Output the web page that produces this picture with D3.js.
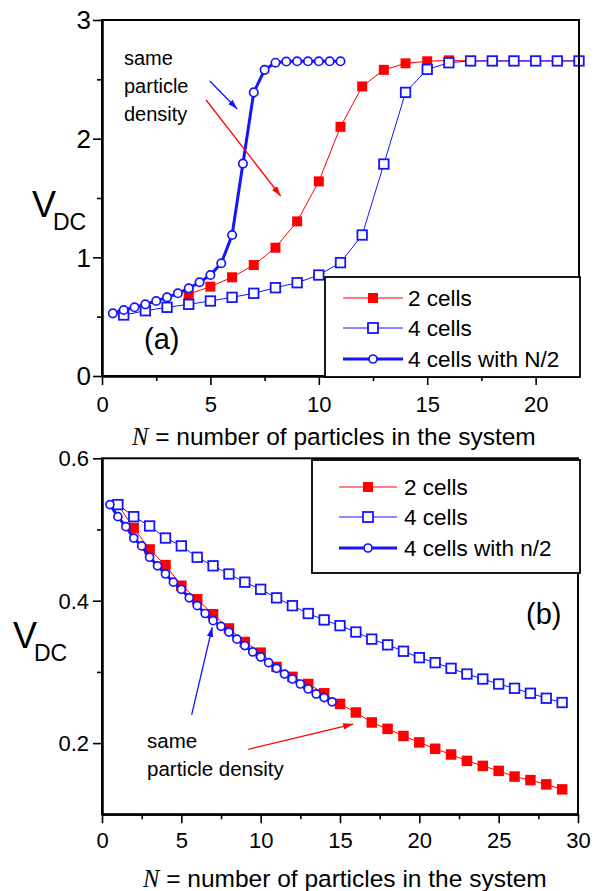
<!DOCTYPE html>
<html>
<head>
<meta charset="utf-8">
<script src="https://cdn.jsdelivr.net/npm/d3@7"></script>
<style>
  body { margin: 0; background: #fff; }
  svg { display: block; }
</style>
</head>
<body>
<svg id="fig" width="599" height="891"></svg>
<script>
// ---------- Panel (a): V_DC against the number of particles N ----------
const aTwoCellsN = [4, 5, 6, 7, 8, 9, 10, 11, 12, 13, 14, 15, 16, 17, 18, 19, 20, 21, 22];
const aTwoCellsV = [0.69, 0.753, 0.832, 0.935, 1.081, 1.303, 1.64, 2.10, 2.44, 2.58, 2.635, 2.652, 2.66,
                    2.655, 2.655, 2.655, 2.655, 2.655, 2.655];

const aFourCellsN = [1, 2, 3, 4, 5, 6, 7, 8, 9, 10, 11, 12, 13, 14, 15, 16, 17, 18, 19, 20, 21, 22];
const aFourCellsV = [0.514, 0.55, 0.579, 0.604, 0.632, 0.663, 0.697, 0.744, 0.786, 0.851, 0.955, 1.188,
                     1.786, 2.39, 2.584, 2.64, 2.655, 2.655, 2.655, 2.655, 2.655, 2.655];

const aHalfN = [0.5, 1, 1.5, 2, 2.5, 3, 3.5, 4, 4.5, 5, 5.5, 6, 6.5, 7, 7.5, 8, 8.5, 9, 9.5, 10, 10.5, 11];
const aHalfV = [0.528, 0.556, 0.579, 0.604, 0.632, 0.663, 0.697, 0.739, 0.79, 0.851, 0.95, 1.188,
                1.79, 2.39, 2.58, 2.64, 2.65, 2.652, 2.652, 2.652, 2.652, 2.652];

const aXTicks = [0, 5, 10, 15, 20];
const aXMinor = [2.5, 7.5, 12.5, 17.5];
const aYTicks = [0, 1, 2, 3];
const aYMinor = [0.5, 1.5, 2.5];
const aLegend = ["2 cells", "4 cells", "4 cells with N/2"];

// ---------- Panel (b) ----------
const bTwoCellsN = [1, 2, 3, 4, 5, 6, 7, 8, 9, 10, 11, 12, 13, 14, 15, 16, 17, 18, 19, 20, 21, 22, 23, 24, 25, 26, 27, 28, 29];
const bTwoCellsV = [0.535, 0.502, 0.472, 0.45, 0.421, 0.402, 0.381, 0.361, 0.342, 0.327, 0.307, 0.293, 0.283,
                    0.27, 0.255, 0.243, 0.229, 0.22, 0.21, 0.201, 0.192, 0.184, 0.175, 0.168, 0.161, 0.153,
                    0.148, 0.142, 0.135];

const bFourCellsN = [1, 2, 3, 4, 5, 6, 7, 8, 9, 10, 11, 12, 13, 14, 15, 16, 17, 18, 19, 20, 21, 22, 23, 24, 25, 26, 27, 28, 29];
const bFourCellsV = [0.535, 0.518, 0.505, 0.488, 0.477, 0.461, 0.449, 0.4375, 0.426, 0.416, 0.404, 0.393,
                     0.382, 0.373, 0.365, 0.356, 0.346, 0.338, 0.329, 0.32, 0.313, 0.305, 0.297, 0.29,
                     0.283, 0.277, 0.27, 0.263, 0.257];

const bHalfN = [0.5, 1, 1.5, 2, 2.5, 3, 3.5, 4, 4.5, 5, 5.5, 6, 6.5, 7, 7.5, 8, 8.5, 9, 9.5, 10, 10.5,
                11, 11.5, 12, 12.5, 13, 13.5, 14, 14.5];
const bHalfV = [0.535, 0.518, 0.504, 0.488, 0.477, 0.461, 0.449, 0.4375, 0.426, 0.416, 0.404, 0.393,
                0.382, 0.372, 0.364, 0.356, 0.346, 0.337, 0.328, 0.321, 0.313, 0.305, 0.297, 0.29,
                0.283, 0.276, 0.269, 0.264, 0.258];

const bXTicks = [0, 5, 10, 15, 20, 25, 30];
const bXMinor = [2.5, 7.5, 12.5, 17.5, 22.5, 27.5];
const bYTicks = [0.2, 0.4, 0.6];
const bYMinor = [0.3, 0.5];
const bLegend = ["2 cells", "4 cells", "4 cells with n/2"];

// ---------- styling ----------
const SANS = '"Liberation Sans", Arial, Helvetica, sans-serif';
const SERIF = '"Liberation Serif", "Times New Roman", serif';
const RED = "#ff0000";
const BLUE = "#1414ff";

const svg = d3.select("#fig");

// arrowheads for the annotation arrows
const defs = svg.append("defs");
[["arrRed", RED], ["arrBlue", BLUE]].forEach(([id, c]) => {
  defs.append("marker").attr("id", id)
    .attr("viewBox", "0 -4 10 8").attr("refX", 10).attr("refY", 0)
    .attr("markerUnits", "userSpaceOnUse")
    .attr("markerWidth", 10).attr("markerHeight", 8).attr("orient", "auto")
    .append("path").attr("d", "M0,-3.2L10,0L0,3.2Z").attr("fill", c);
});

function drawSeries(g, x, y, xs, ys, s) {
  const pts = xs.map((v, i) => [v, ys[i]]);
  g.append("path").datum(pts)
    .attr("d", d3.line().x(d => x(d[0])).y(d => y(d[1])))
    .attr("fill", "none").attr("stroke", s.color).attr("stroke-width", s.lw);
  drawMarkers(g, pts.map(d => [x(d[0]), y(d[1])]), s);
}

function drawMarkers(g, pix, s) {
  if (s.shape === "filledSquare") {
    g.selectAll(null).data(pix).join("rect")
      .attr("x", d => d[0] - s.size / 2).attr("y", d => d[1] - s.size / 2)
      .attr("width", s.size).attr("height", s.size).attr("fill", s.color);
  } else if (s.shape === "openSquare") {
    g.selectAll(null).data(pix).join("rect")
      .attr("x", d => d[0] - s.size / 2).attr("y", d => d[1] - s.size / 2)
      .attr("width", s.size).attr("height", s.size)
      .attr("fill", "#fff").attr("stroke", s.color).attr("stroke-width", 1.8);
  } else {
    g.selectAll(null).data(pix).join("circle")
      .attr("cx", d => d[0]).attr("cy", d => d[1]).attr("r", s.size / 2)
      .attr("fill", "#fff").attr("stroke", s.color).attr("stroke-width", 1.7);
  }
}

function drawPanel(p) {
  const g = svg.append("g");
  const x = d3.scaleLinear().domain(p.xDomain).range([p.left, p.right]);
  const y = d3.scaleLinear().domain(p.yDomain).range([p.bottom, p.top]);

  // data
  p.series.forEach(s => drawSeries(g, x, y, s.xs, s.ys, s));

  // frame
  g.append("rect").attr("x", p.left).attr("y", p.top)
    .attr("width", p.right - p.left).attr("height", p.bottom - p.top)
    .attr("fill", "none").attr("stroke", "#000").attr("stroke-width", 2);

  // axes: major ticks with labels, minor ticks without
  const gx = g.append("g").attr("transform", `translate(0,${p.bottom})`)
    .call(d3.axisBottom(x).tickValues(p.xTicks).tickSize(9).tickSizeOuter(0));
  gx.selectAll("text").attr("y", p.xLabelOffset).attr("dy", "0.71em")
    .attr("font-family", SANS).attr("font-size", p.xTickFont).attr("fill", "#000");
  g.append("g").attr("transform", `translate(0,${p.bottom})`)
    .call(d3.axisBottom(x).tickValues(p.xMinor).tickSize(5).tickSizeOuter(0).tickFormat(""));

  const gy = g.append("g").attr("transform", `translate(${p.left},0)`)
    .call(d3.axisLeft(y).tickValues(p.yTicks).tickSize(9).tickSizeOuter(0).tickFormat(p.yFormat));
  gy.selectAll("text").attr("x", -p.yLabelOffset).attr("dy", "0.34em")
    .attr("font-family", SANS).attr("font-size", p.yTickFont).attr("fill", "#000");
  g.append("g").attr("transform", `translate(${p.left},0)`)
    .call(d3.axisLeft(y).tickValues(p.yMinor).tickSize(5).tickSizeOuter(0).tickFormat(""));

  g.selectAll(".domain").attr("stroke-width", 2);
  g.selectAll(".tick line").attr("stroke-width", 1.6);

  // y-axis title V_DC
  const yt = g.append("text").attr("font-family", SANS).attr("fill", "#000");
  yt.append("tspan").attr("x", p.vPos[0]).attr("y", p.vPos[1]).attr("font-size", 36).text("V");
  yt.append("tspan").attr("x", p.vPos[0] + 21).attr("y", p.vPos[1] + 13).attr("font-size", 23).text("DC");

  // x-axis title
  const xt = g.append("text").attr("x", p.xTitlePos[0]).attr("y", p.xTitlePos[1])
    .attr("font-size", 24.5).attr("fill", "#000");
  xt.append("tspan").attr("font-family", SERIF).attr("font-style", "italic").text("N");
  xt.append("tspan").attr("font-family", SANS).text(" = number of particles in the system");

  // panel tag
  g.append("text").attr("x", p.tagPos[0]).attr("y", p.tagPos[1])
    .attr("font-family", SANS).attr("font-size", 29).attr("fill", "#000").text(p.tag);

  // annotation text and arrows
  p.noteLines.forEach(([tx, ty, t]) => {
    g.append("text").attr("x", tx).attr("y", ty).attr("font-family", SANS)
      .attr("font-size", p.noteFont).attr("fill", "#000").text(t);
  });
  p.arrows.forEach(a => {
    g.append("line")
      .attr("x1", x(a.from[0])).attr("y1", y(a.from[1]))
      .attr("x2", x(a.to[0])).attr("y2", y(a.to[1]))
      .attr("stroke", a.color).attr("stroke-width", 1.3)
      .attr("marker-end", `url(#${a.color === RED ? "arrRed" : "arrBlue"})`);
  });

  // legend
  const L = p.legend;
  g.append("rect").attr("x", L.box[0]).attr("y", L.box[1]).attr("width", L.box[2]).attr("height", L.box[3])
    .attr("fill", "#fff").attr("stroke", "#000").attr("stroke-width", 1.8);
  p.series.forEach((s, i) => {
    const cy = L.rows[i];
    g.append("line").attr("x1", L.line[0]).attr("x2", L.line[1]).attr("y1", cy).attr("y2", cy)
      .attr("stroke", s.color).attr("stroke-width", s.lw);
    drawMarkers(g, [[(L.line[0] + L.line[1]) / 2, cy]],
      Object.assign({}, s, { size: s.shape === "circle" ? 8 : 10 }));
    g.append("text").attr("x", L.textX).attr("y", cy).attr("dy", "0.36em")
      .attr("font-family", SANS).attr("font-size", 22.5).attr("fill", "#000").text(L.labels[i]);
  });
}

// panel (a)
drawPanel({
  xDomain: [0, 22], yDomain: [0, 3],
  left: 102, right: 579, top: 20, bottom: 376,
  xTicks: aXTicks, xMinor: aXMinor, yTicks: aYTicks, yMinor: aYMinor,
  yFormat: d3.format("d"),
  xTickFont: 22, yTickFont: 26, xLabelOffset: 20, yLabelOffset: 11,
  series: [
    { xs: aTwoCellsN, ys: aTwoCellsV, color: RED, lw: 1, shape: "filledSquare", size: 10 },
    { xs: aFourCellsN, ys: aFourCellsV, color: BLUE, lw: 1, shape: "openSquare", size: 9.5 },
    { xs: aHalfN, ys: aHalfV, color: BLUE, lw: 3, shape: "circle", size: 8.4 }
  ],
  vPos: [32, 217], xTitlePos: [132, 445], tag: "(a)", tagPos: [144, 349],
  noteFont: 20,
  noteLines: [[124, 65, "same"], [124, 93, "particle"], [124, 121, "density"]],
  arrows: [
    { from: [4.97, 2.486], to: [6.24, 2.25], color: BLUE },
    { from: [4.80, 2.326], to: [8.24, 1.517], color: RED }
  ],
  legend: { box: [325, 277, 255, 100], rows: [298, 328, 359], line: [343, 403], textX: 408, labels: aLegend }
});

// panel (b)
drawPanel({
  xDomain: [0, 30], yDomain: [0.1, 0.6],
  left: 102, right: 578, top: 458.3, bottom: 814.3,
  xTicks: bXTicks, xMinor: bXMinor, yTicks: bYTicks, yMinor: bYMinor,
  yFormat: d3.format(".1f"),
  xTickFont: 22, yTickFont: 22, xLabelOffset: 18, yLabelOffset: 13,
  series: [
    { xs: bTwoCellsN, ys: bTwoCellsV, color: RED, lw: 1, shape: "filledSquare", size: 10.5 },
    { xs: bFourCellsN, ys: bFourCellsV, color: BLUE, lw: 1, shape: "openSquare", size: 9.5 },
    { xs: bHalfN, ys: bHalfV, color: BLUE, lw: 3, shape: "circle", size: 8 }
  ],
  vPos: [13, 648], xTitlePos: [143, 887], tag: "(b)", tagPos: [526, 624],
  noteFont: 20.5,
  noteLines: [[147, 748, "same"], [147, 776, "particle density"]],
  arrows: [
    { from: [5.65, 0.2395], to: [6.95, 0.363], color: BLUE },
    { from: [9.22, 0.1913], to: [15.83, 0.2268], color: RED }
  ],
  legend: { box: [312, 460, 268, 113], rows: [487, 517, 548], line: [339, 397], textX: 404, labels: bLegend }
});
</script>
</body>
</html>
